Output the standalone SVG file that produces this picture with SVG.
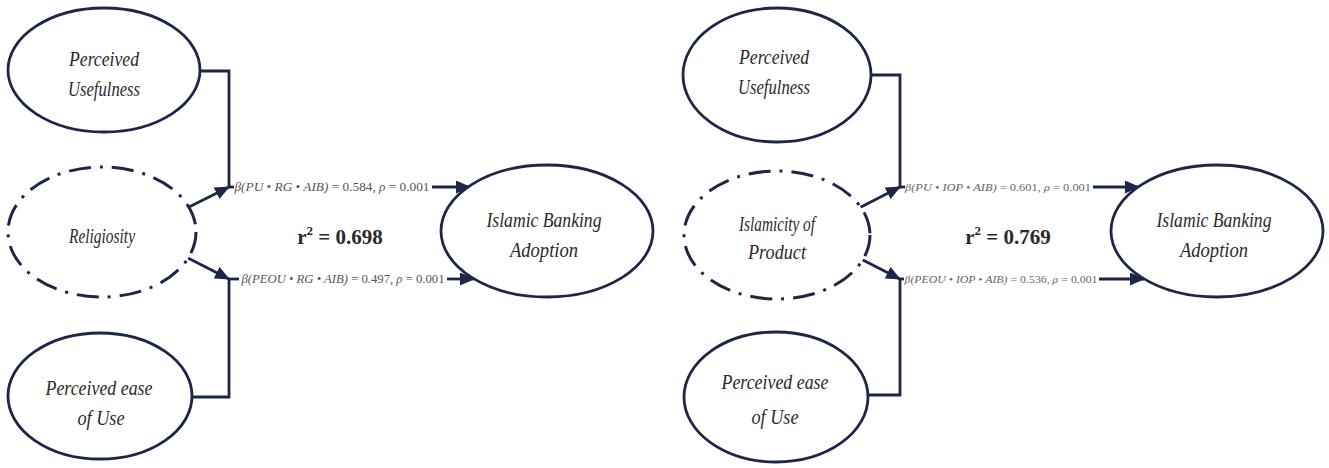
<svg xmlns="http://www.w3.org/2000/svg" width="1329" height="468" viewBox="0 0 1329 468">
<style>
.node{fill:#fff;stroke:#1c2748;stroke-width:2.8}
.dash{stroke-dasharray:22 9 3 9;stroke-width:3}
.nt{font-family:"Liberation Serif",serif;font-style:italic;font-size:21px;fill:#2a2a2a;text-anchor:middle}
.lbl{font-family:"Liberation Serif",serif;font-size:12px;fill:#555;text-anchor:middle}
.lbl2{font-family:"Liberation Serif",serif;font-size:10.5px;fill:#666;text-anchor:middle}
.it{font-style:italic}
.r2{font-family:"Liberation Serif",serif;font-weight:bold;font-size:21px;fill:#2a2a2a;text-anchor:middle}
.c{fill:none;stroke:#1c2748;stroke-width:2.8}
</style>
<defs>
<marker id="ah" markerUnits="userSpaceOnUse" markerWidth="15" markerHeight="13" refX="14" refY="6.5" orient="auto">
<path d="M0,0 L15,6.5 L0,13 z" fill="#1c2748"/>
</marker>
</defs>
<rect width="1329" height="468" fill="#fff"/>

<g id="connectors">
<polyline class="c" points="200,71 229,71 229,187"/>
<line class="c" x1="187" y1="208" x2="229" y2="187" marker-end="url(#ah)"/>
<line class="c" x1="229" y1="187" x2="234" y2="187"/>
<line class="c" x1="432" y1="187" x2="470" y2="187" marker-end="url(#ah)"/>
<line class="c" x1="188" y1="258" x2="229" y2="279" marker-end="url(#ah)"/>
<polyline class="c" points="192,397 229,397 229,279"/>
<line class="c" x1="229" y1="279" x2="239" y2="279"/>
<line class="c" x1="447" y1="279" x2="474" y2="279" marker-end="url(#ah)"/>

<polyline class="c" points="871,75 900,75 900,187"/>
<line class="c" x1="859" y1="208" x2="900" y2="187" marker-end="url(#ah)"/>
<line class="c" x1="900" y1="187" x2="905" y2="187"/>
<line class="c" x1="1093" y1="187" x2="1139" y2="187" marker-end="url(#ah)"/>
<line class="c" x1="859" y1="258" x2="900" y2="279" marker-end="url(#ah)"/>
<polyline class="c" points="868,395 900,395 900,279"/>
<line class="c" x1="900" y1="279" x2="904" y2="279"/>
<line class="c" x1="1099" y1="279" x2="1144" y2="279" marker-end="url(#ah)"/>
</g>

<g id="labels">
<text class="lbl" x="332" y="191" textLength="195" lengthAdjust="spacingAndGlyphs"><tspan class="it">β(PU • RG • AIB)</tspan> = 0.584, <tspan class="it">ρ</tspan> = 0.001</text>
<text class="lbl" x="343" y="283" textLength="203" lengthAdjust="spacingAndGlyphs"><tspan class="it">β(PEOU • RG • AIB)</tspan> = 0.497, <tspan class="it">ρ</tspan> = 0.001</text>
<text class="r2" x="340" y="244">r<tspan font-size="13" dy="-9">2</tspan><tspan dy="9"> = 0.698</tspan></text>
<text class="lbl2" x="998" y="191" textLength="186" lengthAdjust="spacingAndGlyphs"><tspan class="it">β(PU • IOP • AIB)</tspan> = 0.601, <tspan class="it">ρ</tspan> = 0.001</text>
<text class="lbl2" x="1001" y="283" textLength="193" lengthAdjust="spacingAndGlyphs"><tspan class="it">β(PEOU • IOP • AIB)</tspan> = 0.536, <tspan class="it">ρ</tspan> = 0.001</text>
<text class="r2" x="1008" y="244">r<tspan font-size="13" dy="-9">2</tspan><tspan dy="9"> = 0.769</tspan></text>
</g>

<g id="pu-left">
<ellipse class="node" cx="104" cy="70" rx="96" ry="62"/>
<text class="nt" x="104" y="66" textLength="70" lengthAdjust="spacingAndGlyphs">Perceived</text>
<text class="nt" x="104" y="96" textLength="72" lengthAdjust="spacingAndGlyphs">Usefulness</text>
</g>
<g id="religiosity">
<ellipse class="node dash" cx="102" cy="232" rx="94" ry="65"/>
<text class="nt" x="102" y="243" font-size="22" textLength="66" lengthAdjust="spacingAndGlyphs">Religiosity</text>
</g>
<g id="peou-left">
<ellipse class="node" cx="100" cy="396" rx="92" ry="63"/>
<text class="nt" x="99" y="395" textLength="107" lengthAdjust="spacingAndGlyphs">Perceived ease</text>
<text class="nt" x="101" y="425" textLength="47" lengthAdjust="spacingAndGlyphs">of Use</text>
</g>
<g id="iba-left">
<ellipse class="node" cx="547" cy="231" rx="106" ry="66"/>
<text class="nt" x="544" y="227" textLength="115" lengthAdjust="spacingAndGlyphs">Islamic Banking</text>
<text class="nt" x="544" y="257" textLength="68" lengthAdjust="spacingAndGlyphs">Adoption</text>
</g>

<g id="pu-right">
<ellipse class="node" cx="777" cy="75" rx="94" ry="67"/>
<text class="nt" x="774" y="64" textLength="70" lengthAdjust="spacingAndGlyphs">Perceived</text>
<text class="nt" x="774" y="94" textLength="72" lengthAdjust="spacingAndGlyphs">Usefulness</text>
</g>
<g id="islamicity">
<ellipse class="node dash" cx="777" cy="235" rx="93" ry="64"/>
<text class="nt" x="777" y="231" font-size="22" textLength="76" lengthAdjust="spacingAndGlyphs">Islamicity of</text>
<text class="nt" x="777" y="259" font-size="22" textLength="58" lengthAdjust="spacingAndGlyphs">Product</text>
</g>
<g id="peou-right">
<ellipse class="node" cx="776" cy="397" rx="92" ry="65"/>
<text class="nt" x="775" y="389" textLength="107" lengthAdjust="spacingAndGlyphs">Perceived ease</text>
<text class="nt" x="775" y="424" textLength="47" lengthAdjust="spacingAndGlyphs">of Use</text>
</g>
<g id="iba-right">
<ellipse class="node" cx="1217" cy="231" rx="106" ry="66"/>
<text class="nt" x="1214" y="227" textLength="115" lengthAdjust="spacingAndGlyphs">Islamic Banking</text>
<text class="nt" x="1214" y="257" textLength="68" lengthAdjust="spacingAndGlyphs">Adoption</text>
</g>
</svg>
